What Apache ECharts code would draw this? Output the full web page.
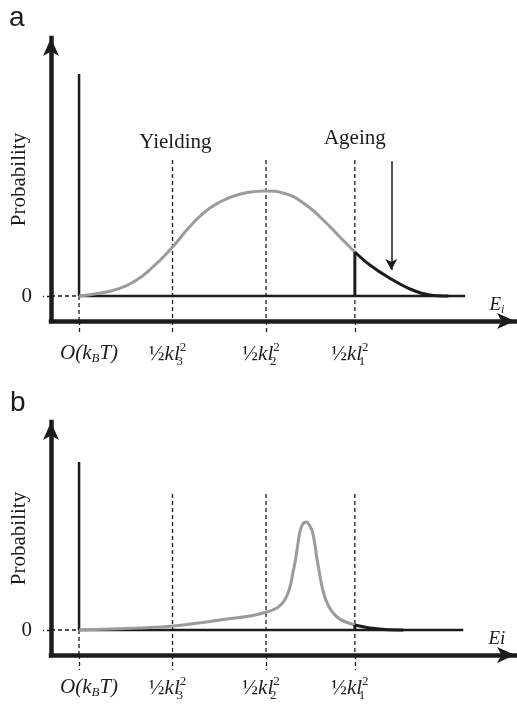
<!DOCTYPE html>
<html><head><meta charset="utf-8">
<script src="https://cdn.jsdelivr.net/npm/echarts@6/dist/echarts.min.js"></script>
<style>html,body{margin:0;padding:0;background:#fff}#c{width:517px;height:708px}</style>
</head><body><div id="c"></div>
<script>
// ---- shared axis data ----
const tickValues = [0, 1, 2, 2.95];
const tickLabels = ['{o0|O(k}{sb|B}{it|T)}', '{rg|½}{it|kl}{ss|3}{sp|2}', '{rg|½}{it|kl}{ss|2}{sp|2}', '{rg|½}{it|kl}{ss|1}{sp|2}'];
const dashedTop = 1.36;
const X_MIN = -0.3, X_MAX = 4.663;
const Y_MIN = -0.25;
const yMaxA = 2.58, yMaxB = 2.08;

// ---- panel a ----
const aGrayX = [0, 0.2, 0.4, 0.6, 0.8, 1.0, 1.2, 1.4, 1.6, 1.8, 2.0, 2.2, 2.4, 2.6, 2.8, 2.95];
const aGrayY = [0, 0.025, 0.066, 0.15, 0.30, 0.49, 0.71, 0.88, 0.98, 1.035, 1.05, 1.025, 0.93, 0.77, 0.58, 0.44];
const aTailX = [2.95, 3.11, 3.32, 3.54, 3.75, 3.95];
const aTailY = [0.44, 0.31, 0.18, 0.07, 0.01, 0];
const aCutY = [0, 0.44];
const aBaseEnd = 4.13;
const aVertTop = 2.22;
const noteTexts = ['Yielding', 'Ageing'];
const noteX = [1.03, 2.95];
const noteY = [1.54, 1.58];
const ageArrowX = 3.34;
const ageArrowY = [1.35, 0.26];
const aAxisName = '{it|E}{sb|i}';

// ---- panel b ----
const bGrayX = [0, 0.62, 1.01, 1.51, 2.01, 2.20, 2.30, 2.36, 2.39, 2.43, 2.46, 2.50, 2.56, 2.64, 2.76, 2.95];
const bGrayY = [0, 0.02, 0.04, 0.10, 0.18, 0.30, 0.63, 0.97, 1.055, 1.08, 1.055, 0.97, 0.63, 0.30, 0.13, 0.05];
const bTailX = [2.95, 3.11, 3.27, 3.47];
const bTailY = [0.05, 0.02, 0.005, 0];
const bCutY = [0, 0.05];
const bBaseEnd = 4.11;
const bVertTop = 1.68;
const bAxisName = '{it|Ei}';

const axisNameX = 4.47, axisNameY = -0.085;

const SERIF = "'Liberation Serif','DejaVu Serif',serif";
const INK = '#1c1c1c';
const GRAY = '#9b9b9b';
const rich = {
  o0: {fontFamily: SERIF, fontStyle: 'italic', fontSize: 21, color: INK, padding: [0, 0, 0, 20]},
  it: {fontFamily: SERIF, fontStyle: 'italic', fontSize: 21, color: INK},
  rg: {fontFamily: SERIF, fontSize: 21, color: INK},
  sb: {fontFamily: SERIF, fontStyle: 'italic', fontSize: 13, color: INK, padding: [11, 0, 0, 0]},
  ss: {fontFamily: SERIF, fontSize: 13, color: INK, padding: [14, 0, 0, 0], width: 0},
  sp: {fontFamily: SERIF, fontSize: 13, color: INK, padding: [0, 10, 14, 0]}
};
const richSmall = {
  it: {fontFamily: SERIF, fontStyle: 'italic', fontSize: 19, color: INK},
  sb: {fontFamily: SERIF, fontStyle: 'italic', fontSize: 12, color: INK, padding: [10, 0, 0, 0]}
};

function line(gi, xs, ys, color, width, type, smooth, z) {
  return {
    type: 'line', xAxisIndex: gi, yAxisIndex: gi,
    data: xs.map((x, i) => [x, ys[i]]),
    symbol: 'none', smooth: smooth || false, silent: true, animation: false, clip: false,
    lineStyle: {color: color, width: width, type: type || 'solid', cap: 'butt'},
    z: z || 2
  };
}
function xAxisFor(gi) {
  return {
    type: 'value', gridIndex: gi, min: X_MIN, max: X_MAX,
    axisLine: {onZero: false, symbol: ['none', 'arrow'], symbolSize: [12, 18], lineStyle: {color: INK, width: 4.5, cap: 'square'}},
    splitLine: {show: false},
    axisTick: {show: true, customValues: tickValues, length: gi === 0 ? 12 : 15, lineStyle: {type: [4, 3], color: INK, width: 1.3}},
    axisLabel: {customValues: tickValues, formatter: v => tickLabels[tickValues.indexOf(v)], rich: rich, margin: 20, hideOverlap: false}
  };
}
function yAxisFor(gi, ymax) {
  return {
    type: 'value', gridIndex: gi, min: Y_MIN, max: ymax,
    axisLine: {onZero: false, symbol: ['none', 'arrow'], symbolSize: [12, 18], lineStyle: {color: INK, width: 4.5, cap: 'square'}},
    splitLine: {show: false},
    axisTick: {show: true, customValues: [0], length: 8, lineStyle: {type: [4, 3], color: INK, width: 1.3}},
    axisLabel: {customValues: [0], formatter: () => '0', fontFamily: SERIF, fontSize: 21, color: INK, margin: 19},
    name: 'Probability', nameLocation: 'middle', nameGap: 21, nameMoveOverlap: false,
    nameTextStyle: {fontFamily: SERIF, fontSize: 21, color: INK}
  };
}
function dashes(gi) {
  const out = [];
  tickValues.forEach(v => {
    out.push(line(gi, [v, v], [v === 0 ? 0 : dashedTop, Y_MIN], INK, 1.3, [4, 3], false, 1));
  });
  out.push(line(gi, [X_MIN, 0], [0, 0], INK, 1.3, [4, 3], false, 1));
  return out;
}
function textSeries(gi, xs, ys, texts, style) {
  return {
    type: 'scatter', xAxisIndex: gi, yAxisIndex: gi, symbolSize: 0, silent: true, animation: false,
    itemStyle: {opacity: 1},
    data: texts.map((t, i) => ({value: [xs[i], ys[i]], name: t})),
    label: Object.assign({show: true, position: 'inside', formatter: '{b}', opacity: 1}, style)
  };
}

const series = [];
// panel a
series.push(...dashes(0));
series.push(line(0, [0, aBaseEnd], [0, 0], INK, 2.5, 'solid', false, 3));
series.push(line(0, [0, 0], [0, aVertTop], INK, 2.5, 'solid', false, 3));
series.push(line(0, aGrayX, aGrayY, GRAY, 3, 'solid', 0.5, 4));
series.push(line(0, [aTailX[0], aTailX[0]], aCutY, INK, 3, 'solid', false, 5));
series.push(line(0, aTailX, aTailY, INK, 3, 'solid', 0.4, 5));
const arrowSeries = line(0, [ageArrowX, ageArrowX], ageArrowY, INK, 0, 'solid', false, 5);
arrowSeries.markLine = {
  silent: true, animation: false, symbol: ['none', 'arrow'], symbolSize: [9, 11],
  label: {show: false}, lineStyle: {color: INK, width: 1.5, type: 'solid'},
  data: [[{coord: [ageArrowX, ageArrowY[0]]}, {coord: [ageArrowX, ageArrowY[1]]}]]
};
series.push(arrowSeries);
series.push(textSeries(0, noteX, noteY, noteTexts, {fontFamily: SERIF, fontSize: 21, color: INK}));
series.push(textSeries(0, [axisNameX], [axisNameY], [aAxisName], {rich: richSmall}));
// panel b
series.push(...dashes(1));
series.push(line(1, [0, bBaseEnd], [0, 0], INK, 2.5, 'solid', false, 3));
series.push(line(1, [0, 0], [0, bVertTop], INK, 2.5, 'solid', false, 3));
series.push(line(1, bGrayX, bGrayY, GRAY, 3, 'solid', 0.4, 4));
series.push(line(1, [bTailX[0], bTailX[0]], bCutY, INK, 3, 'solid', false, 5));
series.push(line(1, bTailX, bTailY, INK, 3, 'solid', 0.35, 5));
series.push(textSeries(1, [axisNameX], [axisNameY], [bAxisName], {rich: richSmall}));

const chart = echarts.init(document.getElementById('c'));
chart.setOption({
  backgroundColor: '#fff',
  animation: false,
  grid: [
    {left: 51, top: 38, width: 464, height: 283, outerBoundsMode: 'none', containLabel: false},
    {left: 51, top: 422, width: 464, height: 233, outerBoundsMode: 'none', containLabel: false}
  ],
  xAxis: [xAxisFor(0), xAxisFor(1)],
  yAxis: [yAxisFor(0, yMaxA), yAxisFor(1, yMaxB)],
  graphic: [
    {type: 'text', left: 9, top: 4, style: {text: 'a', font: "28px 'Liberation Sans', Arial, sans-serif", fill: INK}},
    {type: 'text', left: 10, top: 389, style: {text: 'b', font: "28px 'Liberation Sans', Arial, sans-serif", fill: INK}}
  ],
  series: series
});
</script></body></html>
